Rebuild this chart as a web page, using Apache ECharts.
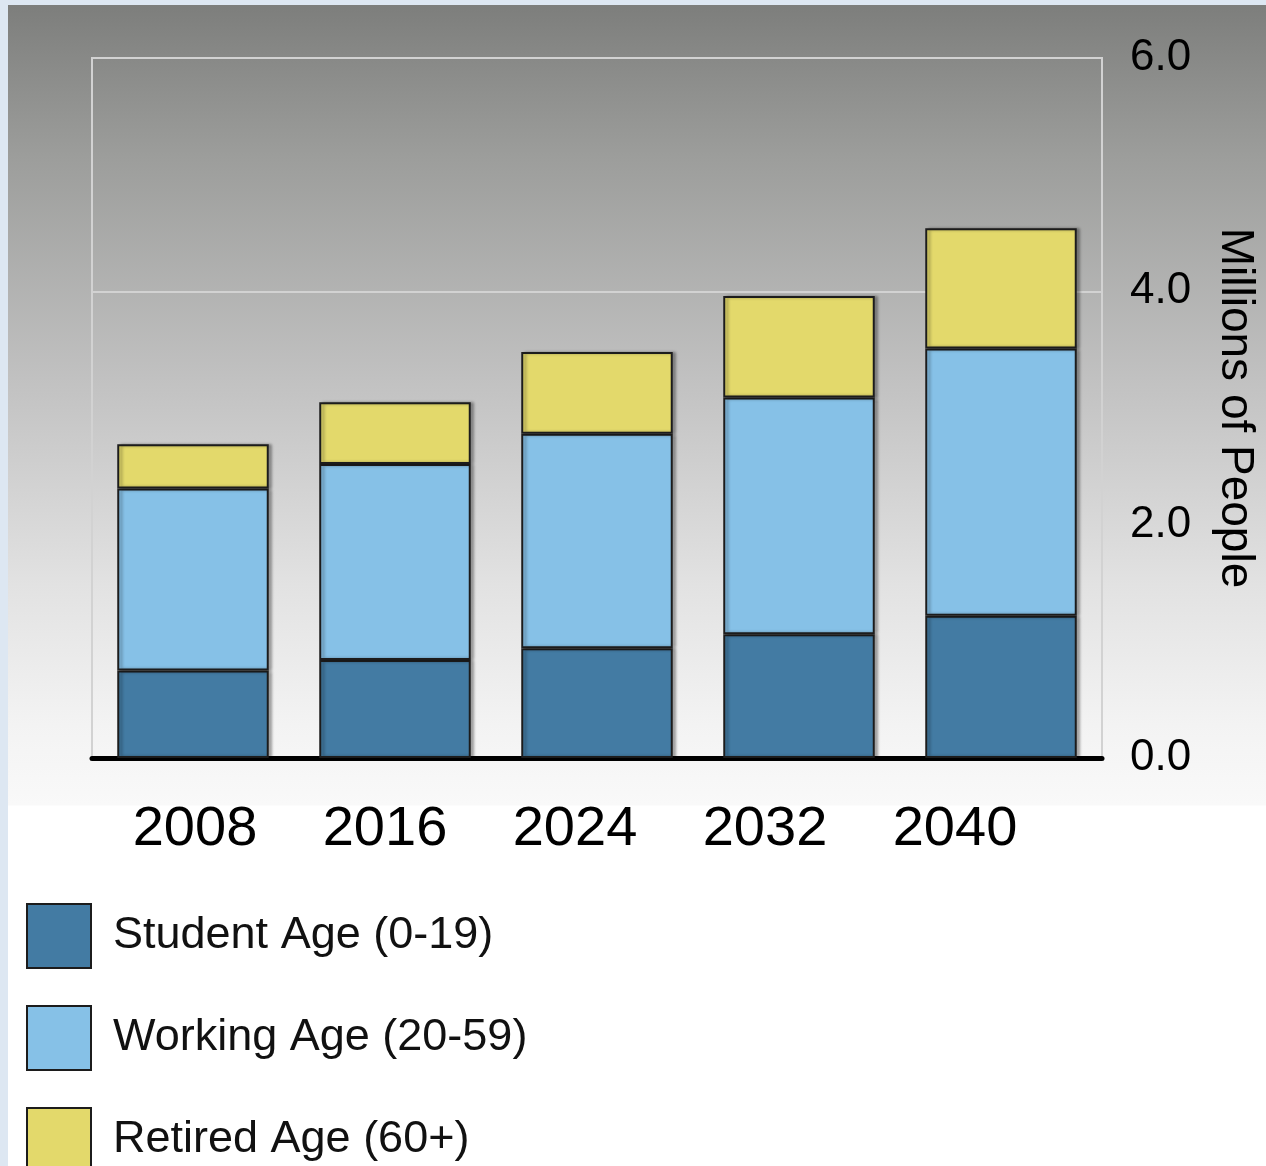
<!DOCTYPE html>
<html>
<head>
<meta charset="utf-8">
<script src="https://cdn.jsdelivr.net/npm/echarts@6/dist/echarts.min.js"></script>
<style>
  html, body { margin: 0; padding: 0; }
  body { width: 1266px; height: 1166px; background: #dde7f2; position: relative; overflow: hidden; }
  #panel {
    position: absolute; left: 8px; top: 5px; width: 1258px; height: 1161px;
    background: linear-gradient(to bottom, #7d7e7c 0px, #9c9d9b 150px, #c2c2c2 380px, #e2e2e2 580px, #f3f3f3 720px, #f9f9f9 800px, #ffffff 801px, #ffffff 100%);
  }
  #main { position: absolute; left: 0; top: 0; width: 1266px; height: 1166px; }
</style>
</head>
<body>
<div id="panel"></div>
<div id="main"></div>
<script>
// data (millions of people)
var years = ['2008', '2016', '2024', '2032', '2040'];
var studentAge = [0.75, 0.84, 0.94, 1.06, 1.22];
var workingAge = [1.56, 1.68, 1.84, 2.03, 2.29];
var retiredAge = [0.38, 0.53, 0.70, 0.87, 1.03];
var seriesNames = ['Student Age (0-19)', 'Working Age (20-59)', 'Retired Age (60+)'];
var yTicks = [0, 2, 4, 6];

var font = '"Liberation Sans", Arial, sans-serif';
var chart = echarts.init(document.getElementById('main'), null, { renderer: 'canvas' });

function barStyle(color) {
  return {
    color: color,
    borderColor: '#1c1c1c',
    borderWidth: 2,
    shadowColor: 'rgba(0,0,0,0.3)',
    shadowBlur: 3,
    shadowOffsetX: 3,
    shadowOffsetY: 0
  };
}

var option = {
  backgroundColor: 'transparent',
  animation: false,
  textStyle: { fontFamily: font },
  grid: [
    // plot area
    { left: 92, right: 158, top: 58, height: 700, show: true, borderColor: '#d2d2d2', borderWidth: 2, backgroundColor: 'transparent' },
    // year labels sit on a slightly narrower band than the bars
    { left: 100, width: 950, top: 58, height: 700, show: false }
  ],
  legend: {
    orient: 'vertical',
    left: 26,
    top: 903,
    height: 300,
    padding: 0,
    itemWidth: 64,
    itemHeight: 64,
    itemGap: 36,
    icon: 'rect',
    selectedMode: false,
    itemStyle: { borderColor: '#1c1c1c', borderWidth: 2, shadowBlur: 0, shadowOffsetX: 0 },
    textStyle: { fontSize: 45, color: '#111', fontFamily: font, padding: [10, 0, 0, 17] },
    data: seriesNames
  },
  xAxis: [
    {
      type: 'category', gridIndex: 0, data: years,
      axisLine: { lineStyle: { color: '#000', width: 5 } },
      axisTick: { show: false },
      axisLabel: { show: false }
    },
    {
      type: 'category', gridIndex: 1, data: years, position: 'bottom',
      axisLine: { show: false },
      axisTick: { show: false },
      axisLabel: { fontSize: 56, color: '#000', margin: 44, fontFamily: font }
    }
  ],
  yAxis: [
    {
      type: 'value', gridIndex: 0, position: 'right', min: yTicks[0], max: yTicks[yTicks.length - 1], interval: 2,
      name: 'Millions of People', nameLocation: 'middle', nameRotate: -90, nameGap: 110,
      nameTextStyle: { fontSize: 46, color: '#000', fontFamily: font },
      axisLine: { show: false },
      axisTick: { show: false },
      splitLine: { show: false },
      axisLabel: { fontSize: 44, color: '#000', margin: 28, padding: [0, 0, 12, 0], fontFamily: font, formatter: function (v) { return v.toFixed(1); } }
    },
    {
      // only draws the light line at 4.0
      type: 'value', gridIndex: 0, position: 'left', min: 0, max: 6, interval: 4,
      axisLine: { show: false }, axisTick: { show: false }, axisLabel: { show: false },
      splitLine: { show: true, lineStyle: { color: '#d2d2d2', width: 2 } }
    },
    { type: 'value', gridIndex: 1, show: false }
  ],
  series: [
    { name: seriesNames[0], type: 'bar', stack: 'pop', data: studentAge, barCategoryGap: '25%', itemStyle: barStyle('#437ba3') },
    { name: seriesNames[1], type: 'bar', stack: 'pop', data: workingAge, itemStyle: barStyle('#86c1e7') },
    { name: seriesNames[2], type: 'bar', stack: 'pop', data: retiredAge, itemStyle: barStyle('#e3d96b') }
  ]
};
chart.setOption(option);
</script>
</body>
</html>
